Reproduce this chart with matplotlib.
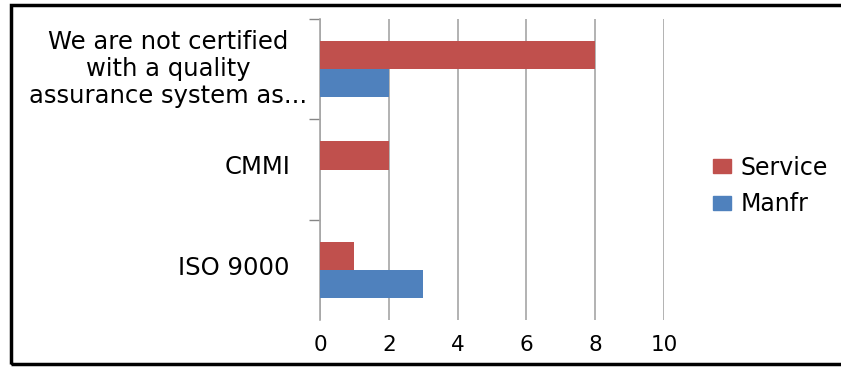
import matplotlib
matplotlib.use("Agg")
import matplotlib.pyplot as plt
from matplotlib.patches import Rectangle, Patch
from matplotlib.transforms import offset_copy
import numpy as np

categories = ["ISO 9000", "CMMI",
              "We are not certified\nwith a quality\nassurance system as..."]
service = [1, 2, 8]
manfr = [3, 0, 2]
series_names = ["Service", "Manfr"]
colors = ["#C0504D", "#4F81BD"]
xticks = [0, 2, 4, 6, 8, 10]

W, H = 841, 367
fig = plt.figure(figsize=(W / 100, H / 100), dpi=100)
ax = fig.add_axes([320 / W, 1 - 320 / H, (664 - 320) / W, (320 - 19) / H])

y = np.arange(len(categories))
bh = 0.28
ax.barh(y + bh / 2, service, height=bh, color=colors[0], zorder=3)
ax.barh(y - bh / 2, manfr, height=bh, color=colors[1], zorder=3)

ax.set_xlim(0, 10)
ax.set_ylim(-0.5, len(categories) - 0.5)
ax.set_xticks(xticks)
ax.set_xticklabels([str(v) for v in xticks], fontsize=15.5)
ax.xaxis.grid(True, color="#A6A6A6", linewidth=1.2, zorder=0)
ax.tick_params(axis="x", length=0, pad=11)

# category labels
ax.set_yticks([])
ytr = ax.get_yaxis_transform()
for i, lab in enumerate(categories):
    if "\n" in lab:
        tr = offset_copy(ytr, fig=fig, x=-152, y=0, units="dots")
        ax.text(0, i, lab, transform=tr, ha="center", va="center",
                multialignment="center", fontsize=17.5, linespacing=1.17)
    else:
        tr = offset_copy(ytr, fig=fig, x=-30, y=2, units="dots")
        ax.text(0, i, lab, transform=tr, ha="right", va="center",
                fontsize=17.5)
ax.set_yticks(np.arange(0.5, len(categories), 1), minor=True)
ax.tick_params(axis="y", which="minor", length=8, color="#868686", width=1)
ax.set_yticklabels([], minor=True)

for s in ["top", "right", "bottom"]:
    ax.spines[s].set_visible(False)
ax.spines["left"].set_color("#A6A6A6")
ax.spines["left"].set_linewidth(1.2)

handles = [Patch(color=colors[0]), Patch(color=colors[1])]
fig.legend(handles, series_names, loc="center left",
           bbox_to_anchor=(713 / W, 1 - 186 / H), frameon=False,
           fontsize=17, handlelength=0.78, handleheight=0.5,
           handletextpad=0.4, labelspacing=0.55, borderpad=0,
           borderaxespad=0)

fig.patches.append(Rectangle((11 / W, 1 - 364 / H), (W + 5 - 11) / W,
                             (364 - 5) / H, transform=fig.transFigure,
                             fill=False, edgecolor="black", linewidth=2.5,
                             clip_on=False))

fig.savefig("out.png", dpi=100)
